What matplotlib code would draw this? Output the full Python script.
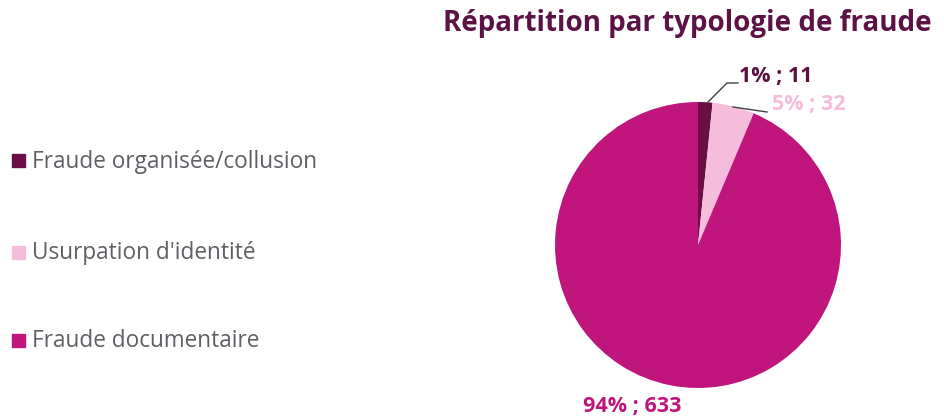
import matplotlib.pyplot as plt
from matplotlib.patches import Rectangle

categories = ['Fraude organisée/collusion', "Usurpation d'identité", 'Fraude documentaire']
values = [11, 32, 633]
pct_labels = ['1% ; 11', '5% ; 32', '94% ; 633']
colors = ['#6a0f45', '#f5bddb', '#c0157c']

plt.rcParams['font.family'] = ['Open Sans', 'DejaVu Sans']

fig = plt.figure(figsize=(9.44, 4.19), dpi=100)
W, H = 944, 419

# pie centre (698, 245) px, radius 143 px
cx, cy, r = 698, 245, 143
ax = fig.add_axes([(cx - r) / W, (H - cy - r) / H, 2 * r / W, 2 * r / H])
ax.pie(values, colors=colors, startangle=90, counterclock=False, radius=1,
       wedgeprops=dict(linewidth=0))
ax.set_xlim(-1, 1)
ax.set_ylim(-1, 1)
ax.set_aspect('auto')
ax.axis('off')

def px(x, y):
    return ((x - cx) / r, (cy - y) / r)

# leader lines
x0, y0 = px(708, 102); x1, y1 = px(727, 83); x2, y2 = px(738, 83)
ax.plot([x0, x1, x2], [y0, y1, y2], color='#404040', lw=1, clip_on=False)
x0, y0 = px(733, 107); x1, y1 = px(767, 112)
ax.plot([x0, x1], [y0, y1], color='#404040', lw=1, clip_on=False)

lx, ly = px(739, 76)
ax.text(lx, ly, pct_labels[0], color='#5c0f3e', fontsize=15.5, fontweight='bold',
        ha='left', va='center')
lx, ly = px(772, 104)
ax.text(lx, ly, pct_labels[1], color=colors[1], fontsize=15.5, fontweight='bold',
        ha='left', va='center')
lx, ly = px(632, 406)
ax.text(lx, ly, pct_labels[2], color=colors[2], fontsize=15.5, fontweight='bold',
        ha='center', va='center')

fig.text(687 / W, 1 - 24 / H, 'Répartition par typologie de fraude', color='#5c1245',
         fontsize=20, fontweight='bold', ha='center', va='center')

# legend
leg_y = [161, 252, 340]
for name, c, y in zip(categories, colors, leg_y):
    fig.patches.append(Rectangle((12 / W, 1 - (y + 6.5) / H), 13 / W, 13 / H,
                                 transform=fig.transFigure, color=c))
    fig.text(32 / W, 1 - (y + 1) / H, name, color='#5f6066', fontsize=16.3,
             ha='left', va='center')

fig.savefig('out.png', dpi=100, facecolor='white')
